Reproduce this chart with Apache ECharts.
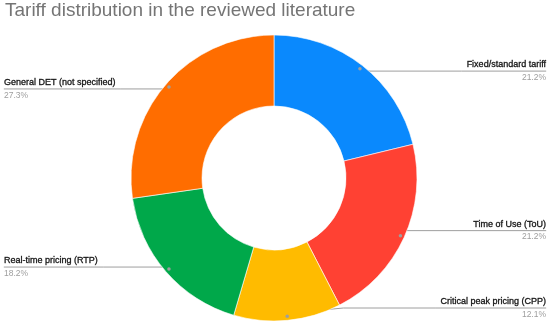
<!DOCTYPE html>
<html>
<head>
<meta charset="utf-8">
<script src="https://cdn.jsdelivr.net/npm/echarts@6/dist/echarts.min.js"></script>
<style>html,body{margin:0;padding:0;background:#fff}#c{width:550px;height:327px}</style>
</head>
<body>
<div id="c"></div>
<script>
const titleText = 'Tariff distribution in the reviewed literature';
const categories = ['Fixed/standard tariff', 'Time of Use (ToU)', 'Critical peak pricing (CPP)', 'Real-time pricing (RTP)', 'General DET (not specified)'];
const values = [7, 7, 4, 6, 9];
const colors = ['#0a89fd', '#ff4133', '#ffbb00', '#00a84a', '#ff6d00'];

const chart = echarts.init(document.getElementById('c'), null, {renderer: 'canvas'});
const total = values.reduce((a, b) => a + b, 0);
const data = categories.map((n, i) => ({name: n, value: values[i], itemStyle: {color: colors[i]}}));
const plain = categories.map((n, i) => ({name: n, value: values[i]}));

chart.setOption({
  animation: false,
  title: {
    text: titleText, left: 5, top: 1, padding: 0,
    textStyle: {fontFamily: 'Liberation Sans, Arial', fontSize: 19, fontWeight: 'normal', color: '#757575'}
  },
  series: [
    {
      type: 'pie', center: [274, 178], radius: [72, 143], startAngle: 90, clockwise: true,
      silent: true, label: {show: false}, labelLine: {show: false},
      itemStyle: {borderColor: '#fff', borderWidth: 0.6},
      data: data
    },
    {
      type: 'pie', center: [274, 178], radius: [0, 136], startAngle: 90, clockwise: true,
      silent: true, bottom: 7,
      itemStyle: {color: 'rgba(0,0,0,0)'},
      emphasis: {disabled: true},
      label: {
        show: true, position: 'outside', alignTo: 'edge', edgeDistance: 4,
        formatter: p => '{n|' + p.name + '}\n{v|' + (p.value / total * 100).toFixed(1) + '%}',
        rich: {
          n: {fontFamily: 'Liberation Sans, Arial', fontSize: 9, color: '#111', lineHeight: 13, textBorderColor: '#444', textBorderWidth: 0.35},
          v: {fontFamily: 'Liberation Sans, Arial', fontSize: 8.5, color: '#9e9e9e', lineHeight: 13}
        }
      },
      labelLine: {show: true, length: 0, length2: 10, smooth: false, lineStyle: {color: '#9e9e9e', width: 1}},
      labelLayout: function (params) {
        const pts = params.labelLinePoints;
        if (!pts) return {};
        const r = params.labelRect;
        const last = pts[pts.length - 1];
        const left = last[0] < 274;
        const edgeX = left ? r.x : r.x + r.width;
        const np = pts.map(p => p.slice());
        np.push([edgeX, last[1]]);
        return {labelLinePoints: np};
      },
      data: plain
    },
    {
      type: 'pie', center: [274, 178], radius: [132, 140], startAngle: 90, clockwise: true,
      silent: true,
      itemStyle: {color: 'rgba(0,0,0,0)'},
      emphasis: {disabled: true},
      label: {
        show: true, position: 'inside', formatter: '{d| }',
        rich: {d: {width: 3.5, height: 3.5, borderRadius: 1.75, backgroundColor: '#9e9e9e'}}
      },
      labelLine: {show: false},
      data: plain
    }
  ]
});
</script>
</body>
</html>
